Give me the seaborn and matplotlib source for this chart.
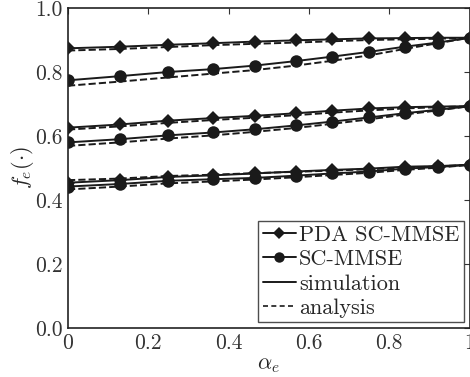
import matplotlib
matplotlib.use("Agg")
import matplotlib.pyplot as plt
from matplotlib.lines import Line2D
import seaborn as sns
import pandas as pd
import numpy as np

alpha = [0.0, 0.129, 0.2495, 0.3615, 0.465, 0.567, 0.658, 0.75, 0.838, 0.921, 1.0]

# three scenarios (top, middle, bottom)
pda_sim_1 = [0.874, 0.879, 0.885, 0.890, 0.895, 0.899, 0.902, 0.905, 0.906, 0.907, 0.907]
pda_ana_1 = [0.867, 0.872, 0.878, 0.884, 0.888, 0.892, 0.896, 0.900, 0.902, 0.904, 0.907]
sc_sim_1 = [0.774, 0.787, 0.800, 0.809, 0.820, 0.834, 0.848, 0.863, 0.879, 0.892, 0.907]
sc_ana_1 = [0.757, 0.770, 0.783, 0.795, 0.806, 0.820, 0.835, 0.852, 0.872, 0.890, 0.907]

pda_sim_2 = [0.626, 0.636, 0.648, 0.656, 0.663, 0.671, 0.679, 0.686, 0.690, 0.692, 0.693]
pda_ana_2 = [0.620, 0.630, 0.641, 0.650, 0.657, 0.665, 0.673, 0.680, 0.686, 0.690, 0.693]
sc_sim_2 = [0.580, 0.590, 0.602, 0.611, 0.621, 0.633, 0.645, 0.658, 0.671, 0.682, 0.693]
sc_ana_2 = [0.569, 0.580, 0.592, 0.602, 0.613, 0.625, 0.638, 0.652, 0.667, 0.680, 0.693]

pda_sim_3 = [0.454, 0.462, 0.472, 0.477, 0.483, 0.489, 0.494, 0.498, 0.504, 0.506, 0.510]
pda_ana_3 = [0.462, 0.467, 0.475, 0.479, 0.484, 0.488, 0.492, 0.496, 0.501, 0.505, 0.510]
sc_sim_3 = [0.442, 0.450, 0.460, 0.465, 0.469, 0.476, 0.483, 0.489, 0.498, 0.503, 0.510]
sc_ana_3 = [0.433, 0.442, 0.452, 0.458, 0.464, 0.471, 0.478, 0.485, 0.494, 0.501, 0.510]

x_ticks = [0, 0.2, 0.4, 0.6, 0.8, 1.0]
x_ticklabels = ["0", "0.2", "0.4", "0.6", "0.8", "1"]
y_ticks = [0.0, 0.2, 0.4, 0.6, 0.8, 1.0]
y_ticklabels = ["0.0", "0.2", "0.4", "0.6", "0.8", "1.0"]
legend_labels = ["PDA SC-MMSE", "SC-MMSE", "simulation", "analysis"]

sns.set_theme(style="white")
plt.rcParams["font.family"] = ["cmr10", "DejaVu Serif"]
plt.rcParams["mathtext.fontset"] = "cm"
plt.rcParams["axes.formatter.use_mathtext"] = True

fig = plt.figure(figsize=(4.7, 3.77), dpi=100)
ax = fig.add_axes([0.1447, 0.13, 0.8545, 0.8488])

series = [
    (pda_sim_1, "D", "-"), (pda_ana_1, None, "--"), (sc_sim_1, "o", "-"), (sc_ana_1, None, "--"),
    (pda_sim_2, "D", "-"), (pda_ana_2, None, "--"), (sc_sim_2, "o", "-"), (sc_ana_2, None, "--"),
    (pda_sim_3, "D", "-"), (pda_ana_3, None, "--"), (sc_sim_3, "o", "-"), (sc_ana_3, None, "--"),
]
col = "#1a1a1a"
for vals, mk, ls in series:
    df = pd.DataFrame({"alpha": alpha, "f": vals})
    if mk:
        kw = dict(marker=mk, markersize=(7.5 if mk == "D" else 9), markeredgewidth=0)
    else:
        kw = dict(dashes=(5, 2.5))
    sns.lineplot(data=df, x="alpha", y="f", ax=ax, color=col, linestyle=ls,
                 linewidth=1.4, **kw)

ax.set_xlim(0, 1)
ax.set_ylim(0, 1)
ax.set_xticks(x_ticks)
ax.set_xticklabels(x_ticklabels)
ax.set_yticks(y_ticks)
ax.set_yticklabels(y_ticklabels)
ax.tick_params(direction="in", length=4, width=0.8, top=True, right=True,
               labelsize=15.5, colors="#333333", pad=4)
for s in ax.spines.values():
    s.set_color("#222222")
    s.set_linewidth(1.2)
ax.set_xlabel(r"$\alpha_e$", fontsize=16, labelpad=2)
ax.set_ylabel(r"$f_e(\cdot)$", fontsize=16, labelpad=-1)

handles = [
    Line2D([], [], color=col, marker="D", markersize=6.5, markeredgewidth=0, lw=1.4),
    Line2D([], [], color=col, marker="o", markersize=7.5, markeredgewidth=0, lw=1.4),
    Line2D([], [], color=col, lw=1.4),
    Line2D([], [], color=col, lw=1.2, dashes=(3, 2)),
]
leg = ax.legend(handles, legend_labels, loc="lower right", fontsize=16,
                frameon=True, fancybox=False, handlelength=1.5, handletextpad=0.15,
                borderpad=0.2, labelspacing=0.22, borderaxespad=0.25)
leg.get_frame().set_edgecolor("#222222")
leg.get_frame().set_linewidth(1.0)

fig.savefig("out.png", dpi=100)
